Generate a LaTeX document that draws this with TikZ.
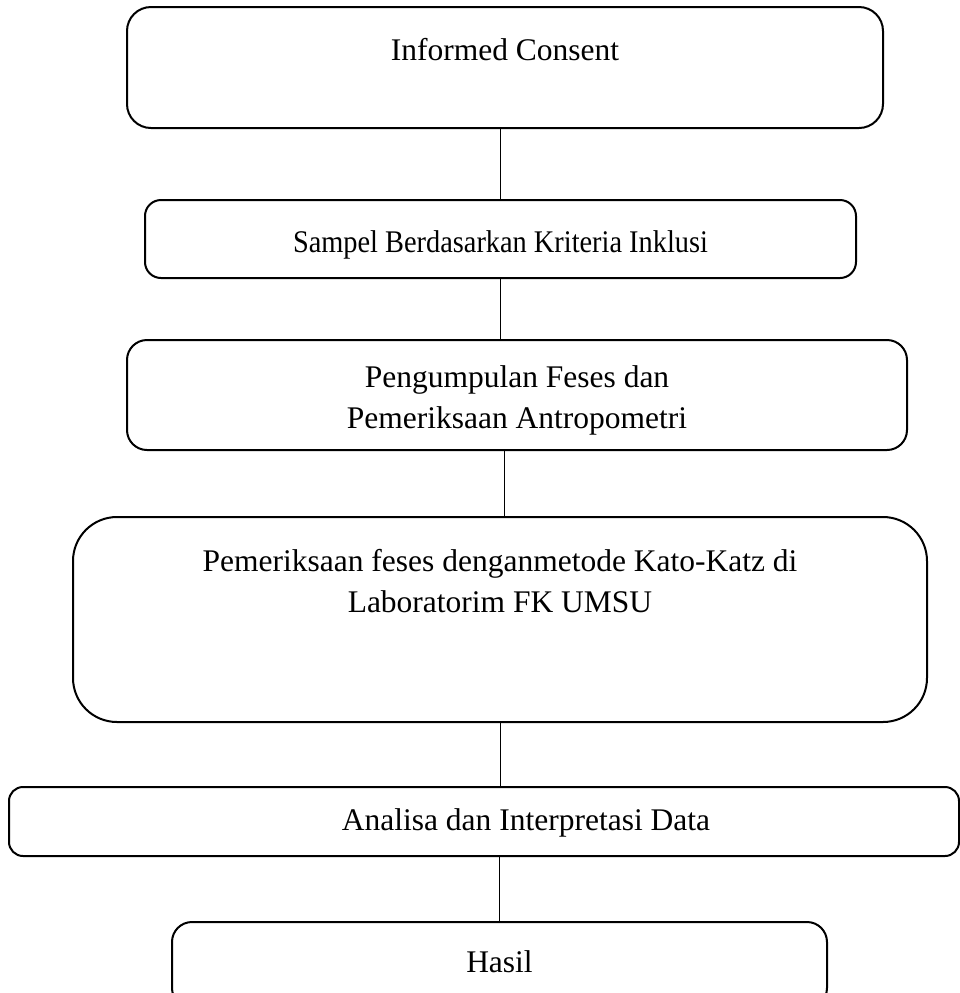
\documentclass[tikz,border=0pt]{standalone}
\usepackage{fontspec}
\setmainfont{Liberation Serif}
\newfontfamily\narrowserif[FakeStretch=0.9]{Liberation Serif}
\usetikzlibrary{arrows.meta, positioning, calc}

\begin{document}
\begin{tikzpicture}[x=0.5pt, y=-0.5pt,
        stepbox/.style={draw, line width=1pt, rounded corners=#1, align=center, inner sep=0pt,
            font=\fontsize{15.75}{20.25}\selectfont, text height=11pt},
        stepbox/.default=10pt,
        link/.style={line width=0.5pt}]
        % Page frame
        \useasboundingbox (0,0) rectangle (960,993);

        % Flow steps
        \node[stepbox=12pt, minimum width=378pt, minimum height=60.5pt, text depth=18.5pt] (consent) at (505,67.5) {Informed Consent};
        \node[stepbox=8pt, minimum width=355.5pt, minimum height=39pt, text height=13pt, text depth=0pt] (sample) at (500.5,239) {\narrowserif Sampel Berdasarkan Kriteria Inklusi};
        \node[stepbox=10pt, minimum width=390pt, minimum height=55pt, text height=33pt, text depth=0pt] (collect) at (517,395) {Pengumpulan Feses dan\\Pemeriksaan Antropometri};
        \node[stepbox=22pt, minimum width=427pt, minimum height=102.5pt, text height=31.25pt, text depth=38.75pt] (exam) at (500,619.5) {Pemeriksaan feses denganmetode Kato-Katz di\\Laboratorim FK UMSU};
        \node[stepbox=7pt, minimum width=475pt, minimum height=34.5pt, text depth=2.5pt] (analysis) at (484,821.5) {\hspace*{42pt}Analisa dan Interpretasi Data};
        \node[stepbox=10pt, minimum width=327.5pt, minimum height=43pt, text depth=4pt] (result) at (499.5,965) {Hasil};

        % Plain links between the steps
        \draw[link] (consent.south -| sample.north) -- (sample.north);
        \draw[link] (sample.south) -- (sample.south |- collect.north);
        \draw[link] ($(collect.south -| exam.north)+(4,0)$) -- ($(exam.north)+(4,0)$);
        \draw[link] (exam.south) -- (exam.south |- analysis.north);
        \draw[link] (analysis.south -| result.north) -- (result.north);
\end{tikzpicture}
\end{document}
